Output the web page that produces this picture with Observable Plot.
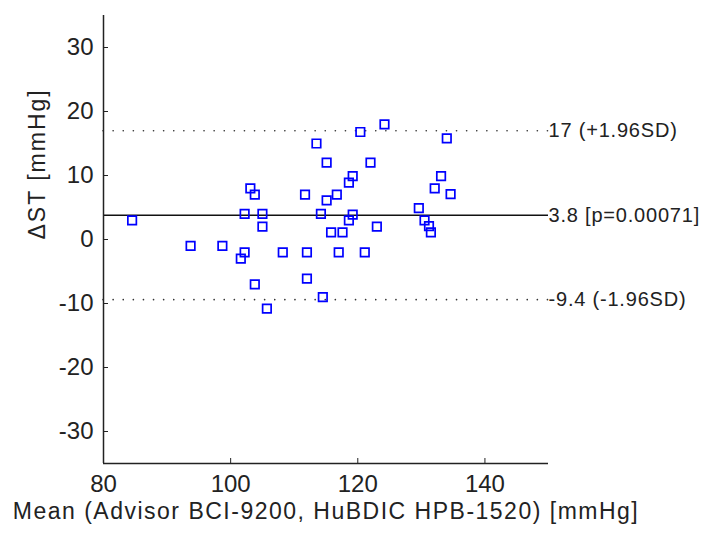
<!DOCTYPE html>
<html>
<head>
<meta charset="utf-8">
<script src="https://cdn.jsdelivr.net/npm/d3@7"></script>
<script src="https://cdn.jsdelivr.net/npm/@observablehq/plot@0.6"></script>
<style>
  body { margin: 0; background: #fff; }
  #chart svg { display: block; }
</style>
</head>
<body>
<div id="chart"></div>
<script>
// Mean of two devices (x) and difference ΔST (y)
const meanValues = [84.5, 93.7, 98.7, 101.6, 102.2, 102.2, 103.1, 103.8, 103.8, 105.0, 105.0, 105.7,
  108.2, 111.7, 112.0, 112.0, 113.5, 114.2, 114.5, 115.1, 115.1, 115.8, 116.7, 117.0, 117.6,
  118.6, 118.6, 119.2, 119.2, 120.4, 121.1, 122.0, 123.0, 124.2, 129.6, 130.5, 131.2, 131.5,
  132.1, 133.1, 134.0, 134.6];
const diffValues = [3, -1, -1, -3, -2, 4, 8, 7, -7, 4, 2, -10.8,
  -2, 7, -2, -6.1, 15, 4, -9, 12, 6.1, 1.1, 7, -2, 1.1,
  3, 8.9, 9.9, 3.9, 16.8, -2, 12, 2, 18, 4.9, 3, 2.1, 1.1,
  8, 9.9, 15.8, 7.1];
// Limits of agreement and bias
const limitValues = [17, -9.4];
const biasValue = [3.8];
const refValues = [17, 3.8, -9.4];
const refLabels = ["17 (+1.96SD)", "3.8 [p=0.00071]", "-9.4 (-1.96SD)"];
// Axes
const xDomain = [80, 150];
const yDomain = [-35, 35];
const xTicks = [80, 100, 120, 140];
const yTicks = [-30, -20, -10, 0, 10, 20, 30];
const xLabel = ["Mean (Advisor BCI-9200, HuBDIC HPB-1520) [mmHg]"];
const yLabel = ["ΔST [mmHg]"];

const points = meanValues.map((m, i) => ({mean: m, diff: diffValues[i]}));
const refs = refValues.map((v, i) => ({v, label: refLabels[i]}));

const font = "Liberation Sans, Arial, sans-serif";
const fmt = d => String(d);

const chart = Plot.plot({
  width: 701,
  height: 534,
  marginLeft: 103,
  marginRight: 153,
  marginTop: 15,
  marginBottom: 71,
  style: {fontFamily: font, background: "#fff", color: "#222"},
  x: {domain: xDomain, ticks: xTicks, label: null},
  y: {domain: yDomain, ticks: yTicks, label: null},
  marks: [
    Plot.ruleY(limitValues, {stroke: "#333", strokeWidth: 1.6, strokeDasharray: "0.1,10", strokeLinecap: "round"}),
    Plot.ruleY(biasValue, {stroke: "#111", strokeWidth: 1.5}),
    Plot.dot(points, {x: "mean", y: "diff", symbol: "square", r: 4.8, stroke: "#0000ff", strokeWidth: 1.7, fill: "none"}),
    Plot.text(refs, {y: "v", text: "label", frameAnchor: "right", textAnchor: "start", fontSize: 20, fill: "#222"}),
    Plot.ruleX([xDomain[0]], {stroke: "#222", strokeWidth: 1.5}),
    Plot.ruleY([yDomain[0]], {stroke: "#222", strokeWidth: 1.5}),
    Plot.axisY(yTicks, {tickSize: -5, text: null, stroke: "#222", label: null}),
    Plot.axisY(yTicks, {tickSize: 0, tickPadding: 10, fontSize: 24, fill: "#222", label: null, tickFormat: fmt}),
    Plot.axisX(xTicks, {tickSize: -5, text: null, stroke: "#222", label: null}),
    Plot.axisX(xTicks, {tickSize: 0, tickPadding: 11, fontSize: 24, fill: "#222", label: null, tickFormat: fmt}),
    Plot.text(xLabel, {frameAnchor: "bottom", dy: 55, fontSize: 23, fill: "#222"}),
    Plot.text(yLabel, {frameAnchor: "left", dx: -66, rotate: -90, fontSize: 23, fill: "#222"})
  ]
});
chart.querySelectorAll("text").forEach(t => {
  const s = t.textContent;
  if (s === xLabel[0]) t.setAttribute("letter-spacing", "1.5");
  if (s === yLabel[0]) t.setAttribute("letter-spacing", "2");
  if (refLabels.includes(s)) t.setAttribute("letter-spacing", "0.8");
});
document.getElementById("chart").append(chart);
</script>
</body>
</html>
